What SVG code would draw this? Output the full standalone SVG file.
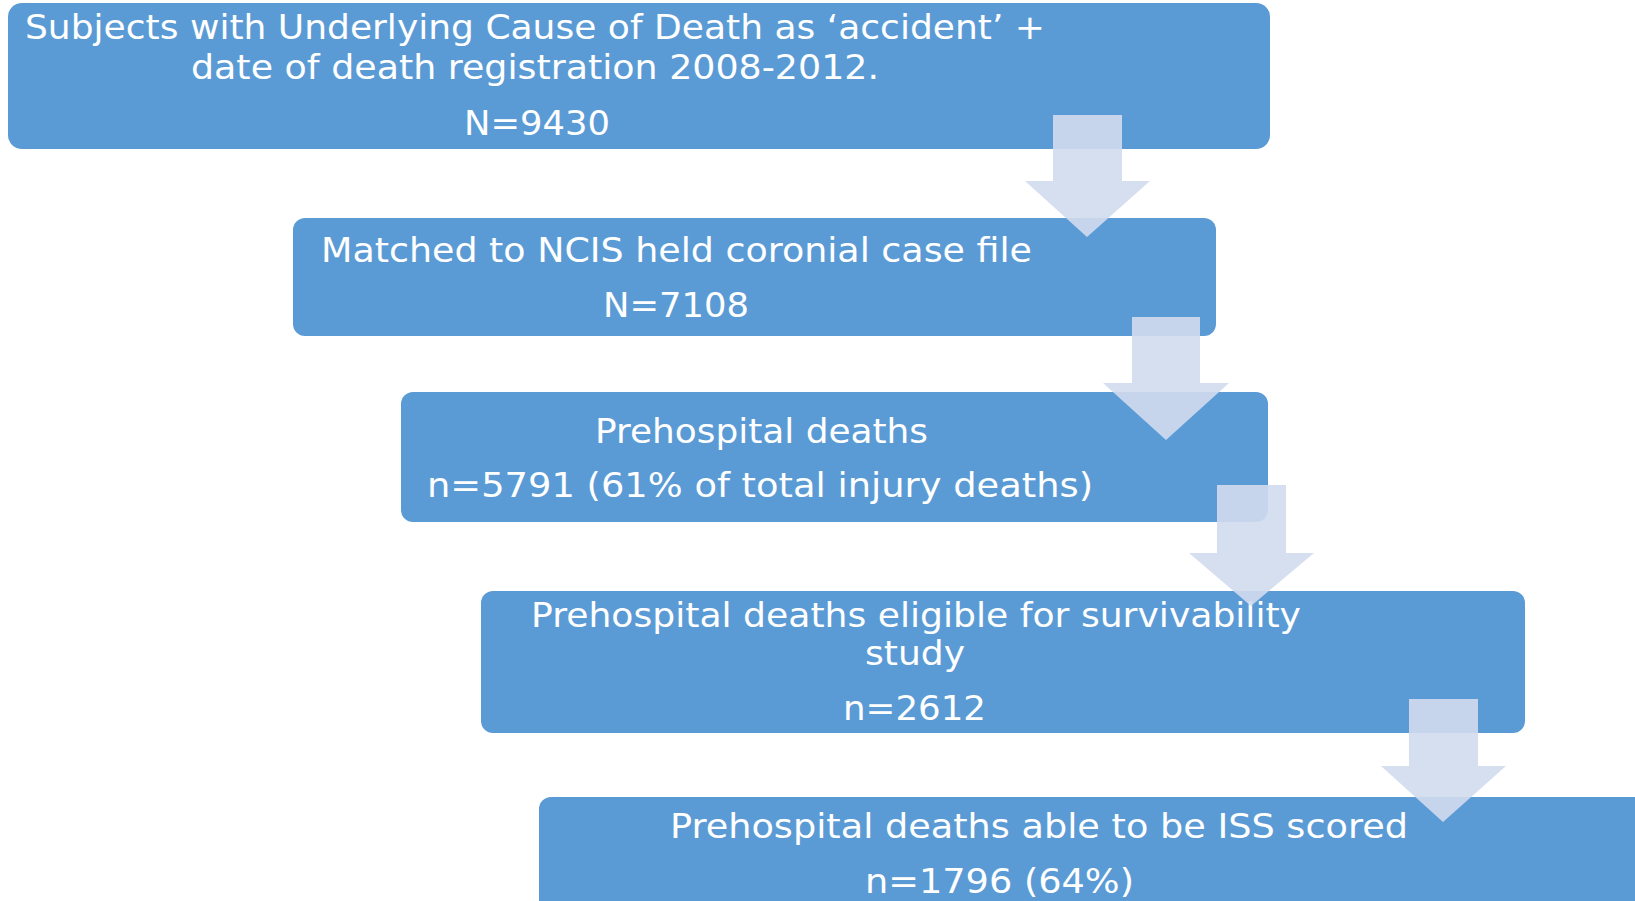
<svg xmlns="http://www.w3.org/2000/svg" width="1635" height="901" viewBox="0 0 1635 901">
  <style>
    .box { fill: #5b9bd5; }
    .t { fill: #ffffff; font-family: "DejaVu Sans", Verdana, sans-serif; font-size: 34px; }
    .arr { fill: #d1dcee; fill-opacity: 0.9; }
  </style>
  <rect width="1635" height="901" fill="#ffffff"/>
  <g id="node1">
    <rect class="box" x="8" y="3" width="1262" height="146" rx="14"/>
    <text class="t" x="25" y="39" textLength="1020" lengthAdjust="spacingAndGlyphs">Subjects with Underlying Cause of Death as ‘accident’ +</text>
    <text class="t" x="191" y="79" textLength="688" lengthAdjust="spacingAndGlyphs">date of death registration 2008-2012.</text>
    <text class="t" x="464" y="135" textLength="146" lengthAdjust="spacingAndGlyphs">N=9430</text>
  </g>
  <g id="node2">
    <rect class="box" x="293" y="218" width="923" height="118" rx="12"/>
    <text class="t" x="321" y="262" textLength="711" lengthAdjust="spacingAndGlyphs">Matched to NCIS held coronial case file</text>
    <text class="t" x="603" y="317" textLength="146" lengthAdjust="spacingAndGlyphs">N=7108</text>
  </g>
  <g id="node3">
    <rect class="box" x="401" y="392" width="867" height="130" rx="12"/>
    <text class="t" x="595" y="443" textLength="333" lengthAdjust="spacingAndGlyphs">Prehospital deaths</text>
    <text class="t" x="427" y="497" textLength="666" lengthAdjust="spacingAndGlyphs">n=5791 (61% of total injury deaths)</text>
  </g>
  <g id="node4">
    <rect class="box" x="481" y="591" width="1044" height="142" rx="12"/>
    <text class="t" x="531" y="627" textLength="770" lengthAdjust="spacingAndGlyphs">Prehospital deaths eligible for survivability</text>
    <text class="t" x="865" y="665" textLength="100" lengthAdjust="spacingAndGlyphs">study</text>
    <text class="t" x="843" y="720" textLength="143" lengthAdjust="spacingAndGlyphs">n=2612</text>
  </g>
  <g id="node5">
    <rect class="box" x="539" y="797" width="1120" height="140" rx="12"/>
    <text class="t" x="670" y="838" textLength="738" lengthAdjust="spacingAndGlyphs">Prehospital deaths able to be ISS scored</text>
    <text class="t" x="865" y="893" textLength="269" lengthAdjust="spacingAndGlyphs">n=1796 (64%)</text>
  </g>
  <g id="connectors">
    <polygon class="arr" points="1053,115 1122,115 1122,181 1150,181 1087,237 1025,181 1053,181"/>
    <polygon class="arr" points="1132,317 1200,317 1200,383 1229,383 1166,440 1103,383 1132,383"/>
    <polygon class="arr" points="1217,485 1286,485 1286,553 1314,553 1251,606 1189,553 1217,553"/>
    <polygon class="arr" points="1409,699 1478,699 1478,766 1506,766 1443,822 1381,766 1409,766"/>
  </g>
</svg>
